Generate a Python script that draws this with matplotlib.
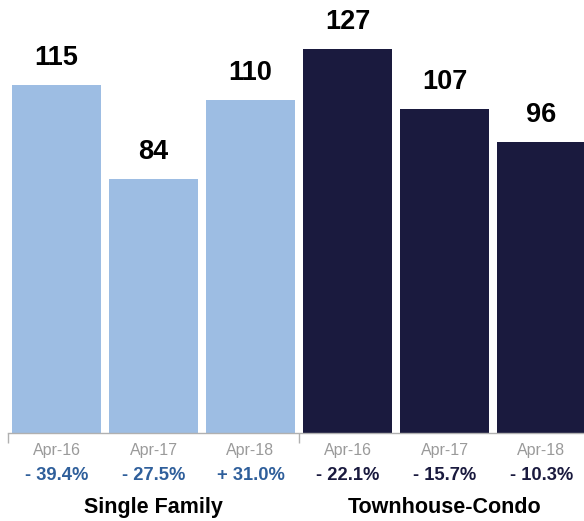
import matplotlib.pyplot as plt

plt.rcParams['font.family'] = ['Liberation Sans', 'DejaVu Sans']

months = ["Apr-16", "Apr-17", "Apr-18", "Apr-16", "Apr-17", "Apr-18"]
values = [115, 84, 110, 127, 107, 96]
changes = ["- 39.4%", "- 27.5%", "+ 31.0%", "- 22.1%", "- 15.7%", "- 10.3%"]
groups = ["Single Family", "Townhouse-Condo"]

light = "#9dbde3"
navy = "#1a1a3e"
bar_colors = [light] * 3 + [navy] * 3
pct_colors = ["#2f5f9b"] * 3 + [navy] * 3

fig = plt.figure(figsize=(5.84, 5.21), dpi=100)
ax = fig.add_axes([8 / 584, 88.5 / 521, 582 / 584, 408 / 521])

x = list(range(len(values)))
ax.bar(x, values, width=0.915, color=bar_colors)
ax.set_xlim(-0.5, 5.5)
ax.set_ylim(0, 135)

for s in ["top", "right", "left"]:
    ax.spines[s].set_visible(False)
ax.spines["bottom"].set_color("#b0b0b0")
ax.spines["bottom"].set_linewidth(1)
ax.set_yticks([])
ax.set_xticks([-0.5, 2.5, 5.5])
ax.set_xticklabels([])
ax.tick_params(axis="x", length=7, color="#b0b0b0", width=1)

tr = ('data', 'axes fraction')
for i, v in enumerate(values):
    ax.annotate(str(v), (i, v), xytext=(0, 27), textcoords="offset pixels",
                ha="center", va="center", fontsize=19.5, fontweight="bold")
    ax.annotate(months[i], (i, 0), xycoords=tr, xytext=(0, -18),
                textcoords="offset pixels", ha="center", va="center",
                fontsize=11.5, color="#9a9a9a")
    ax.annotate(changes[i], (i, 0), xycoords=tr, xytext=(0, -43),
                textcoords="offset pixels", ha="center", va="center",
                fontsize=13.2, fontweight="bold", color=pct_colors[i])

for g, xc in zip(groups, [1, 4]):
    ax.annotate(g, (xc, 0), xycoords=tr, xytext=(0, -75),
                textcoords="offset pixels", ha="center", va="center",
                fontsize=15.5, fontweight="bold")

fig.savefig("out.png", dpi=100)
